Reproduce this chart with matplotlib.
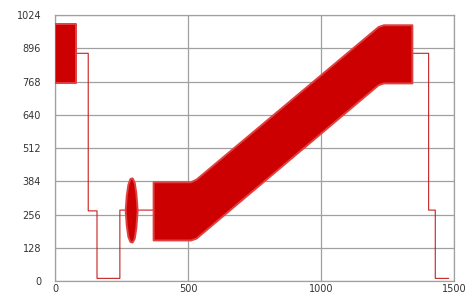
import matplotlib
matplotlib.use("Agg")
import matplotlib.pyplot as plt

# thin trace (where the signal is steady)
trace_x = [80, 125, 125, 158, 158, 244, 244, 267, 308, 369,
           1340, 1405, 1405, 1430, 1430, 1480]
trace_y = [877, 877, 270, 270, 10, 10, 273, 273, 273, 273,
           877, 877, 273, 273, 10, 10]

# oscillating blocks: envelope
block1_x = [0, 80]
block1_hi = [988, 988]
block1_lo = [764, 764]

spindle_x = [264, 268, 274, 282, 290, 298, 304, 309]
spindle_hi = [273, 330, 372, 395, 397, 380, 340, 273]
spindle_lo = [273, 215, 172, 152, 150, 165, 205, 273]

ramp_x = [369, 510, 530, 1215, 1235, 1342]
ramp_hi = [382, 382, 392, 980, 987, 987]
ramp_lo = [158, 158, 165, 756, 763, 763]

yticks = [0, 128, 256, 384, 512, 640, 768, 896, 1024]
xticks = [0, 500, 1000, 1500]

fig = plt.figure(figsize=(4.66, 2.97), dpi=100)
ax = fig.add_axes([0.118, 0.054, 0.856, 0.895])

red = "#cc0000"
ax.plot(trace_x, trace_y, color="#c82020", lw=0.8, zorder=2)
for xs, hi, lo in [(block1_x, block1_hi, block1_lo),
                   (spindle_x, spindle_hi, spindle_lo),
                   (ramp_x, ramp_hi, ramp_lo)]:
    ax.fill_between(xs, lo, hi, color=red, lw=1.4, edgecolor="#e04040", zorder=3)

ax.set_xlim(0, 1500)
ax.set_ylim(0, 1024)
ax.set_xticks(xticks)
ax.set_yticks(yticks)
ax.tick_params(length=0, labelsize=7, colors="#333333")
ax.tick_params(axis="y", pad=10)
ax.tick_params(axis="x", pad=2)
ax.grid(True, color="#a0a0a0", lw=0.9)
ax.set_axisbelow(True)
for s in ax.spines.values():
    s.set_color("#a0a0a0")
    s.set_linewidth(0.9)

fig.savefig("out.png", dpi=100)
